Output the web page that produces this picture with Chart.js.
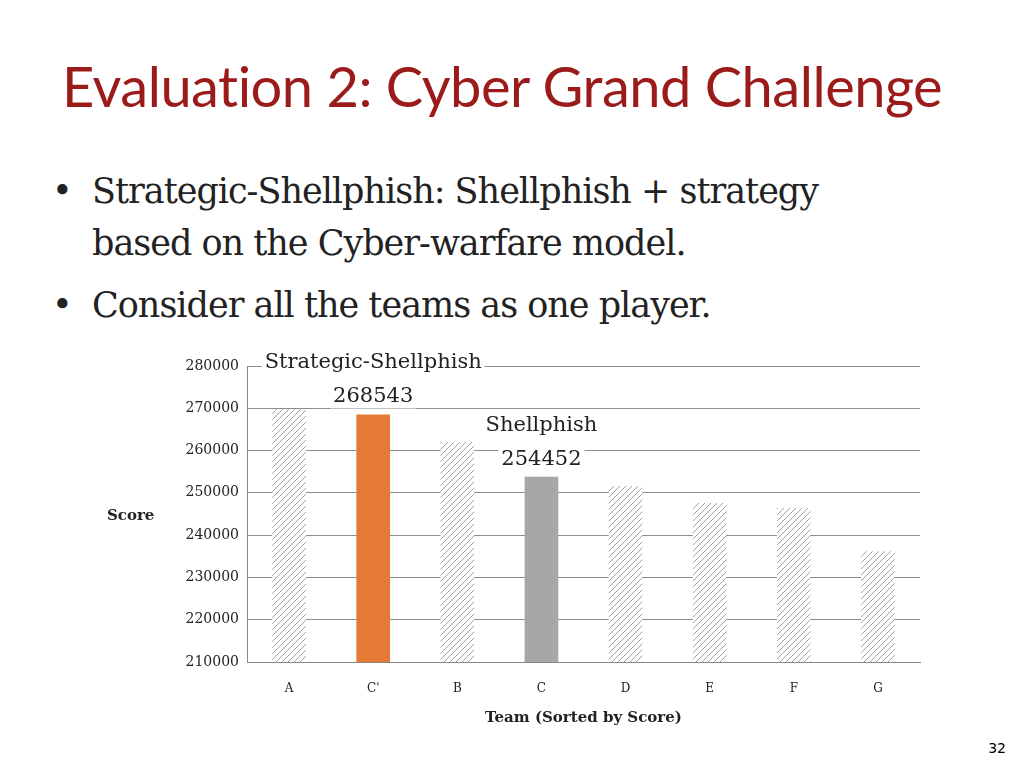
<!DOCTYPE html>
<html>
<head>
<meta charset="utf-8">
<script src="https://cdn.jsdelivr.net/npm/chart.js@4"></script>
<style>
  body { margin: 0; width: 1024px; height: 768px; background: #fff; position: relative; overflow: hidden; }
  h1 { position: absolute; left: 62px; top: 52px; margin: 0; font: 56px Lato, sans-serif; color: #9b1b1b; letter-spacing: -0.5px; }
  ul { position: absolute; left: 52px; top: 165px; margin: 0; padding: 0; list-style: none; font: 35px "DejaVu Serif", serif; color: #222; letter-spacing: -1px; }
  li { position: relative; padding-left: 40px; line-height: 52px; margin-bottom: 10px; }
  li:before { content: "\2022"; position: absolute; left: 0; }
  #wrap { position: absolute; left: 100px; top: 340px; width: 840px; height: 400px; }
  #page { position: absolute; right: 18px; top: 740px; font: 14px "DejaVu Sans", sans-serif; }
</style>
</head>
<body>
<h1>Evaluation 2: Cyber Grand Challenge</h1>
<ul>
  <li>Strategic-Shellphish: Shellphish + strategy<br>based on the Cyber-warfare model.</li>
  <li>Consider all the teams as one player.</li>
</ul>
<div id="wrap"><canvas id="chart" width="840" height="400"></canvas></div>
<div id="page">32</div>
<script>
// datos
const teams = ['A', "C'", 'B', 'C', 'D', 'E', 'F', 'G'];
const scores = [269800, 268543, 262000, 253800, 251600, 247600, 246400, 236200];
const yTicks = [210000, 220000, 230000, 240000, 250000, 260000, 270000, 280000];
const notes = [
  { index: 1, lines: ['Strategic-Shellphish', '268543'] },
  { index: 3, lines: ['Shellphish', '254452'] }
];

// relleno rayado para los equipos normales
function hatch() {
  var c = document.createElement('canvas');
  c.width = 6; c.height = 6;
  var g = c.getContext('2d');
  g.fillStyle = '#fff';
  g.fillRect(0, 0, 6, 6);
  g.strokeStyle = '#8a8a8a';
  g.lineWidth = 0.8;
  g.beginPath();
  g.moveTo(0, 6); g.lineTo(6, 0);
  g.moveTo(-3, 3); g.lineTo(3, -3);
  g.moveTo(3, 9); g.lineTo(9, 3);
  g.stroke();
  return g.createPattern(c, 'repeat');
}
var pat = hatch();
var colors = teams.map(function(t) {
  if (t === "C'") return '#e57a35';
  if (t === 'C') return '#a8a6a6';
  return pat;
});

var labelsPlugin = {
  id: 'labels',
  afterDraw: function(chart) {
    var ctx = chart.ctx;
    var meta = chart.getDatasetMeta(0);
    var area = chart.chartArea;
    ctx.save();
    ctx.textAlign = 'center';
    ctx.font = '21px "DejaVu Serif", serif';
    notes.forEach(function(n) {
      var bar = meta.data[n.index];
      var y = bar.y - 12;
      for (var i = n.lines.length - 1; i >= 0; i--) {
        var w = ctx.measureText(n.lines[i]).width;
        ctx.fillStyle = '#fff';
        ctx.fillRect(bar.x - w / 2 - 3, y - 20, w + 6, 26);
        ctx.fillStyle = '#222';
        ctx.fillText(n.lines[i], bar.x, y);
        y -= 34;
      }
    });
    ctx.fillStyle = '#222';
    ctx.font = 'bold 15px "DejaVu Serif", serif';
    ctx.fillText('Team (Sorted by Score)', (area.left + area.right) / 2, area.bottom + 60);
    ctx.textAlign = 'left';
    ctx.fillText('Score', 7, (area.top + area.bottom) / 2 + 6);
    ctx.restore();
  }
};

new Chart(document.getElementById('chart'), {
  type: 'bar',
  data: {
    labels: teams,
    datasets: [{
      data: scores,
      backgroundColor: colors,
      borderWidth: 0,
      barPercentage: 0.4,
      categoryPercentage: 1
    }]
  },
  options: {
    responsive: false,
    animation: false,
    devicePixelRatio: 1,
    layout: { padding: { top: 26, right: 20 } },
    plugins: { legend: { display: false }, tooltip: { enabled: false } },
    scales: {
      x: {
        grid: { display: false },
        border: { color: '#888' },
        ticks: { color: '#222', font: { family: 'DejaVu Serif', size: 12 }, padding: 12, maxRotation: 0, autoSkip: false },
        afterFit: function(s) { s.height = 78; }
      },
      y: {
        min: 210000,
        max: 280000,
        afterBuildTicks: function(s) { s.ticks = yTicks.map(function(v) { return { value: v }; }); },
        grid: { color: '#8c8c8c', drawTicks: false },
        border: { color: '#888' },
        ticks: { color: '#222', font: { family: 'DejaVu Serif', size: 14 }, padding: 8, callback: function(v) { return String(v); } },
        afterFit: function(s) { s.width = 147; }
      }
    }
  },
  plugins: [labelsPlugin]
});
</script>
</body>
</html>
